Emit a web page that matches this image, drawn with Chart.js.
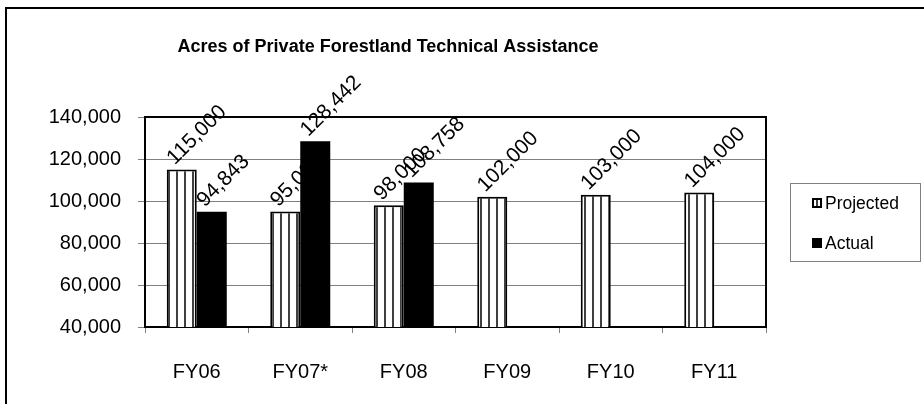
<!DOCTYPE html>
<html>
<head>
<meta charset="utf-8">
<script src="https://cdn.jsdelivr.net/npm/chart.js@4"></script>
<style>
  body { margin: 0; background: #fff; }
  canvas { display: block; }
</style>
</head>
<body>
<canvas id="acresChart" width="924" height="404"></canvas>
<script>
// data
const categories = ['FY06', 'FY07*', 'FY08', 'FY09', 'FY10', 'FY11'];
const projected = [115000, 95000, 98000, 102000, 103000, 104000];
const actual = [94843, 128442, 108758, null, null, null];
const seriesNames = ['Projected', 'Actual'];
const yMin = 40000;
const yMax = 140000;
const yStep = 20000;
const chartTitle = 'Acres of Private Forestland Technical Assistance';

const FONT = 'Arial, "Liberation Sans", sans-serif';

// vertical stripe fill for the projected bars
const makeStripes = function () {
    const c = document.createElement('canvas');
    c.width = 8;
    c.height = 8;
    const g = c.getContext('2d');
    g.fillStyle = '#ffffff';
    g.fillRect(0, 0, 8, 8);
    g.fillStyle = '#404040';
    g.fillRect(0, 0, 2, 8);
    return g.createPattern(c, 'repeat');
};

const fmt = (v) => v.toLocaleString('en-US');

// title, frames, rotated value labels and boxed legend
const decorations = {
    id: 'decorations',
    beforeDatasetsDraw(chart) {
        const {ctx, chartArea: a} = chart;
        ctx.save();
        ctx.strokeStyle = '#000';
        ctx.lineWidth = 2;
        ctx.beginPath();
        ctx.moveTo(a.left, a.top);
        ctx.lineTo(a.right, a.top);
        ctx.lineTo(a.right, a.bottom);
        ctx.stroke();
        ctx.restore();
    },
    afterDatasetsDraw(chart) {
        const ctx = chart.ctx;
        ctx.save();
        ctx.fillStyle = '#000';
        ctx.font = '21px ' + FONT;
        ctx.textAlign = 'left';
        ctx.textBaseline = 'alphabetic';
        chart.data.datasets.forEach((ds, i) => {
            chart.getDatasetMeta(i).data.forEach((bar, j) => {
                const v = ds.data[j];
                if (v === null || v === undefined) return;
                ctx.save();
                ctx.translate(bar.x - 7, bar.y - 4);
                ctx.rotate(-Math.PI / 4);
                ctx.fillText(fmt(v), 0, 0);
                ctx.restore();
            });
        });
        ctx.restore();
    },
    afterDraw(chart) {
        const ctx = chart.ctx;
        ctx.save();
        // outer chart border
        ctx.strokeStyle = '#000';
        ctx.lineWidth = 2;
        ctx.strokeRect(6, 8, 940, 420);

        // title
        ctx.fillStyle = '#000';
        ctx.font = 'bold 18px ' + FONT;
        ctx.textAlign = 'center';
        ctx.textBaseline = 'middle';
        ctx.fillText(chartTitle, 388, 47);

        // legend box
        ctx.strokeStyle = '#808080';
        ctx.lineWidth = 1;
        ctx.strokeRect(790.5, 183.5, 130, 78);
        ctx.font = '17.5px ' + FONT;
        ctx.textAlign = 'left';
        const rows = [203, 243];
        seriesNames.forEach((name, i) => {
            const y = rows[i];
            ctx.fillStyle = '#000';
            ctx.fillRect(812, y - 5, 10, 10);
            if (i === 0) {
                ctx.fillStyle = '#fff';
                ctx.fillRect(814, y - 3, 6, 6);
                ctx.fillStyle = '#404040';
                ctx.fillRect(816, y - 3, 2, 6);
            }
            ctx.fillStyle = '#000';
            ctx.fillText(name, 825, y + 1);
        });
        ctx.restore();
    }
};

const ctx = document.getElementById('acresChart').getContext('2d');

const myChart = new Chart(ctx, {
    type: 'bar',
    data: {
        labels: categories,
        datasets: [{
            label: seriesNames[0],
            data: projected,
            backgroundColor: makeStripes(),
            borderColor: '#000',
            borderWidth: 2,
            borderSkipped: false,
            categoryPercentage: 0.58,
            barPercentage: 1
        }, {
            label: seriesNames[1],
            data: actual,
            backgroundColor: '#000',
            borderWidth: 0,
            categoryPercentage: 0.58,
            barPercentage: 1
        }]
    },
    options: {
        responsive: false,
        devicePixelRatio: 1,
        animation: false,
        layout: {
            padding: {left: 0, top: 117, right: 158, bottom: 0}
        },
        plugins: {
            legend: {display: false},
            title: {display: false},
            tooltip: {enabled: false}
        },
        scales: {
            x: {
                offset: true,
                afterFit: (scale) => { scale.height = 77; },
                grid: {
                    display: true,
                    offset: true,
                    drawOnChartArea: false,
                    drawTicks: true,
                    tickLength: 6,
                    color: '#808080'
                },
                border: {color: '#000', width: 2},
                ticks: {
                    color: '#000',
                    font: {family: FONT, size: 20},
                    padding: 27,
                    maxRotation: 0
                }
            },
            y: {
                min: yMin,
                max: yMax,
                afterFit: (scale) => { scale.width = 145; },
                grid: {
                    color: '#808080',
                    lineWidth: 1,
                    drawTicks: true,
                    tickLength: 7
                },
                border: {color: '#000', width: 2},
                ticks: {
                    stepSize: yStep,
                    color: '#000',
                    font: {family: FONT, size: 20},
                    padding: 17,
                    callback: (v) => fmt(v)
                }
            }
        }
    },
    plugins: [decorations]
});
</script>
</body>
</html>
